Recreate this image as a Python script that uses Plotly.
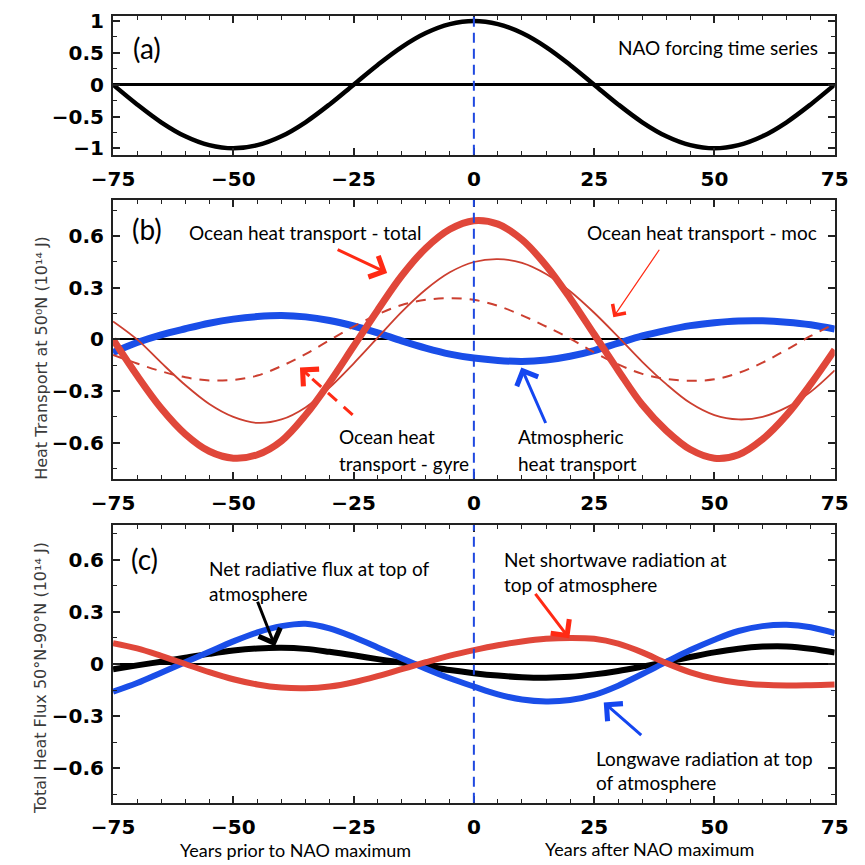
import plotly.graph_objects as go

# ---------------- data ----------------
years = [-75, -70, -65, -60, -55, -50, -45, -40, -35, -30, -25, -20, -15, -10, -5,
         0, 5, 10, 15, 20, 25, 30, 35, 40, 45, 50, 55, 60, 65, 70, 75]

nao_forcing = [0.0, -0.31, -0.59, -0.81, -0.95, -1.0, -0.95, -0.81, -0.59, -0.31, 0.0,
               0.31, 0.59, 0.81, 0.95, 1.0, 0.95, 0.81, 0.59, 0.31, 0.0,
               -0.31, -0.59, -0.81, -0.95, -1.0, -0.95, -0.81, -0.59, -0.31, 0.0]

ocean_total = [0.0, -0.21, -0.40, -0.55, -0.65, -0.69, -0.67, -0.59, -0.44, -0.25, -0.04,
               0.17, 0.37, 0.53, 0.64, 0.69, 0.67, 0.58, 0.43, 0.24, 0.03,
               -0.18, -0.38, -0.53, -0.64, -0.69, -0.67, -0.58, -0.44, -0.26, -0.06]

ocean_moc = [0.105, 0.0, -0.135, -0.265, -0.375, -0.45, -0.485, -0.465, -0.395, -0.28, -0.14,
             0.01, 0.16, 0.29, 0.39, 0.45, 0.467, 0.445, 0.38, 0.28, 0.155,
             0.015, -0.13, -0.26, -0.37, -0.44, -0.465, -0.45, -0.395, -0.305, -0.18]

ocean_gyre = [-0.09, -0.14, -0.185, -0.22, -0.238, -0.235, -0.21, -0.155, -0.085, -0.005, 0.075,
              0.145, 0.2, 0.23, 0.24, 0.23, 0.195, 0.14, 0.075, 0.005, -0.075,
              -0.145, -0.2, -0.23, -0.24, -0.232, -0.195, -0.135, -0.06, 0.02, 0.09]

atmos_transport = [-0.076, -0.018, 0.027, 0.062, 0.094, 0.118, 0.133, 0.139, 0.131, 0.11, 0.078,
                   0.038, -0.008, -0.05, -0.085, -0.108, -0.122, -0.128, -0.12, -0.098, -0.065,
                   -0.022, 0.02, 0.053, 0.08, 0.097, 0.107, 0.108, 0.1, 0.085, 0.06]

net_toa = [-0.03, -0.008, 0.013, 0.036, 0.058, 0.077, 0.089, 0.093, 0.087, 0.07, 0.05,
           0.028, 0.008, -0.013, -0.035, -0.053, -0.067, -0.076, -0.079, -0.074, -0.06,
           -0.04, -0.015, 0.012, 0.04, 0.067, 0.088, 0.1, 0.101, 0.088, 0.066]

longwave_toa = [-0.16, -0.11, -0.05, 0.01, 0.07, 0.13, 0.182, 0.218, 0.232, 0.205, 0.155,
                0.095, 0.033, -0.027, -0.082, -0.13, -0.175, -0.205, -0.216, -0.208, -0.178,
                -0.125, -0.058, 0.012, 0.08, 0.14, 0.19, 0.218, 0.226, 0.212, 0.178]

shortwave_toa = [0.12, 0.09, 0.047, 0.0, -0.047, -0.088, -0.118, -0.136, -0.14, -0.13, -0.105,
                 -0.07, -0.03, 0.01, 0.048, 0.08, 0.108, 0.13, 0.145, 0.15, 0.145,
                 0.117, 0.067, 0.005, -0.048, -0.085, -0.108, -0.12, -0.124, -0.122, -0.118]

# ---------------- styling ----------------
W = H = 865
RED = "#e0473a"
RED_THIN = "#cc3f30"
BLUE = "#1a4ee8"
ARROW_RED = "#ff2a14"
ARROW_BLUE = "#1446f0"
TXT_FONT = "Lato, Open Sans, sans-serif"
TXT_SIZE = 19
TICK_FONT = dict(family="DejaVu Sans, Arial, sans-serif", size=20, color="black", weight="bold")

fig = go.Figure()

def line(x, y, xa, ya, color, width, dash="solid"):
    fig.add_trace(go.Scatter(x=x, y=y, xaxis=xa, yaxis=ya, mode="lines",
                             line=dict(color=color, width=width, dash=dash, shape="spline"),
                             showlegend=False, hoverinfo="skip"))

# panel a
line(years, nao_forcing, "x", "y", "black", 4.5)
# panel b
line(years, atmos_transport, "x2", "y2", BLUE, 7)
line(years, ocean_gyre, "x2", "y2", RED_THIN, 2, dash="10px,8px")
line(years, ocean_moc, "x2", "y2", RED_THIN, 1.8)
line(years, ocean_total, "x2", "y2", RED, 7)
# panel c
line(years, net_toa, "x3", "y3", "black", 6)
line(years, longwave_toa, "x3", "y3", BLUE, 6)
line(years, shortwave_toa, "x3", "y3", RED, 6)

xdom = [95 / W, 848 / W]
def ydom(top, bottom):
    return [1 - bottom / H, 1 - top / H]

def xaxis(anchor):
    return dict(domain=xdom, range=[-75, 75], anchor=anchor, dtick=25, tick0=0,
                ticks="inside", ticklen=7, tickwidth=1.5, tickcolor="#222",
                minor=dict(dtick=5, ticks="inside", ticklen=4, tickwidth=1.2, tickcolor="#222"),
                showline=True, linecolor="#222", linewidth=2, mirror="ticks",
                showgrid=False, zeroline=False, tickfont=TICK_FONT, ticklabelstandoff=5,
                fixedrange=True)

def yaxis(anchor, dom, rng, dtick, minor_dtick, zw):
    return dict(domain=dom, range=rng, anchor=anchor, dtick=dtick, tick0=0,
                ticks="inside", ticklen=7, tickwidth=1.5, tickcolor="#222",
                minor=dict(dtick=minor_dtick, ticks="inside", ticklen=4, tickwidth=1.2, tickcolor="#222"),
                showline=True, linecolor="#222", linewidth=2, mirror="ticks",
                showgrid=False, zeroline=True, zerolinecolor="black", zerolinewidth=zw,
                tickfont=TICK_FONT, ticklabelstandoff=3, fixedrange=True)

fig.update_layout(
    width=W, height=H, margin=dict(l=0, r=0, t=0, b=0),
    paper_bgcolor="white", plot_bgcolor="white",
    xaxis=xaxis("y"), xaxis2=xaxis("y2"), xaxis3=xaxis("y3"),
    yaxis=yaxis("x", ydom(9, 150), [-1.1, 1.08], 0.5, 0.25, 2.5),
    yaxis2=yaxis("x2", ydom(196, 479), [-0.81, 0.81], 0.3, 0.15, 2),
    yaxis3=yaxis("x3", ydom(526, 808), [-0.8, 0.8], 0.3, 0.15, 1.5),
)

# dashed blue vertical line at NAO maximum
for xa, ya in [("x", "y"), ("x2", "y2"), ("x3", "y3")]:
    fig.add_shape(type="line", xref=xa, yref=ya + " domain", x0=0, x1=0, y0=0, y1=1,
                  line=dict(color="#1f48e0", width=2, dash="10px,6px"), layer="above")

def txt(text, px, py, size=TXT_SIZE, xanchor="left", color="black", font=TXT_FONT, angle=0):
    fig.add_annotation(text=text, x=px / W, y=1 - py / H, xref="paper", yref="paper",
                       xanchor=xanchor, yanchor="middle", showarrow=False, textangle=angle,
                       font=dict(family=font, size=size, color=color), borderpad=0)

def arrow(tail, tip, color, width, size=1.0):
    fig.add_annotation(text="", x=tip[0] / W, y=1 - tip[1] / H, xref="paper", yref="paper",
                       ax=tail[0] - tip[0], ay=tail[1] - tip[1], axref="pixel", ayref="pixel",
                       showarrow=True, arrowhead=4, arrowsize=size, arrowwidth=width,
                       arrowcolor=color, standoff=0, startstandoff=0)

# panel labels
txt("(a)", 130, 42, size=28, xanchor="center")
txt("(b)", 130, 225, size=28, xanchor="center")
txt("(c)", 128, 560, size=28, xanchor="center")

# panel a
txt("NAO forcing time series", 832, 41, xanchor="right")

# panel b
txt("Ocean heat transport - total", 173, 229)
txt("Ocean heat transport - moc", 831, 229, xanchor="right")
txt("Ocean heat", 330, 436)
txt("transport - gyre", 330, 463)
txt("Atmospheric", 516, 436)
txt("heat transport", 516, 463)
arrow((330, 246), (381, 270), ARROW_RED, 3, 1.5)
arrow((664, 246), (617, 315), ARROW_RED, 1.2, 2.6)
arrow((546, 423), (521, 366), ARROW_BLUE, 3, 1.5)
# dashed arrow for gyre
fig.add_shape(type="line", xref="paper", yref="paper",
              x0=345 / W, y0=1 - 414 / H, x1=301 / W, y1=1 - 376 / H,
              line=dict(color=ARROW_RED, width=3, dash="12px,9px"))
arrow((301, 376), (290, 366), ARROW_RED, 3, 1.5)

# panel c
txt("Net radiative flux at top of", 194, 570)
txt("atmosphere", 194, 595)
txt("Net shortwave radiation at", 502, 561)
txt("top of atmosphere", 502, 586)
txt("Longwave radiation at top", 598, 763)
txt("of atmosphere", 598, 787)
arrow((246, 603), (264, 649), "black", 3, 1.5)
arrow((536, 595), (571, 641), ARROW_RED, 3, 1.5)
arrow((646, 740), (607, 706), ARROW_BLUE, 3, 1.5)

# x labels under bottom panel
txt("Years prior to NAO maximum", 285, 856, size=18, xanchor="center")
txt("Years after NAO maximum", 655, 855, size=18, xanchor="center")

# y-axis titles
YT_FONT = "DejaVu Sans, Verdana, sans-serif"
txt("Heat Transport at 50⁰N (10¹⁴ J)", 20, 356, size=16, xanchor="center",
    color="#3a3a3a", font=YT_FONT, angle=-90)
txt("Total Heat Flux 50°N-90°N (10¹⁴ J)", 20, 681, size=16, xanchor="center",
    color="#3a3a3a", font=YT_FONT, angle=-90)

fig.write_html("out.html", config={"displayModeBar": False},
               post_script="document.body.style.margin='0px';document.body.style.overflow='hidden';")
